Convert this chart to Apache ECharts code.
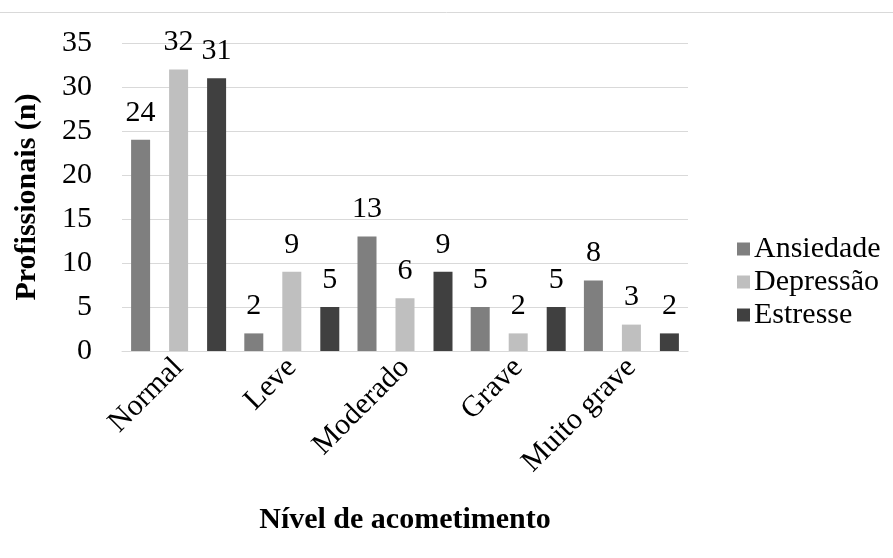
<!DOCTYPE html>
<html>
<head>
<meta charset="utf-8">
<script src="https://cdn.jsdelivr.net/npm/echarts@6/dist/echarts.min.js"></script>
<style>html,body{margin:0;padding:0;background:#fff}#c{width:893px;height:558px}</style>
</head>
<body>
<div id="c"></div>
<script>
const categories = ['Normal', 'Leve', 'Moderado', 'Grave', 'Muito grave'];
const seriesNames = ['Ansiedade', 'Depressão', 'Estresse'];
const ansiedade = [24, 2, 13, 5, 8];
const depressao = [32, 9, 6, 2, 3];
const estresse = [31, 5, 9, 5, 2];
const yTicks = [0, 5, 10, 15, 20, 25, 30, 35];

const FONT = 'Liberation Serif';
const FS = 30;
const colors = ['#7f7f7f', '#bfbfbf', '#404040'];
const values = [ansiedade, depressao, estresse];

const chart = echarts.init(document.getElementById('c'), null, {renderer: 'canvas'});
chart.setOption({
  animation: false,
  textStyle: {fontFamily: FONT},
  graphic: [{
    type: 'line', shape: {x1: 0, y1: 12.5, x2: 893, y2: 12.5},
    style: {stroke: '#d9d9d9', lineWidth: 1}
  }],
  grid: {left: 122, right: 205, top: 43, bottom: 207},
  legend: {
    orient: 'vertical', left: 732, top: 229,
    itemWidth: 13, itemHeight: 13, itemGap: 3,
    icon: 'rect',
    textStyle: {fontFamily: FONT, fontSize: FS, color: '#000', padding: [0,0,0,-1], lineHeight: 30},
    data: seriesNames
  },
  xAxis: {
    type: 'category', data: categories,
    axisLine: {lineStyle: {color: '#d9d9d9', width: 1}},
    axisTick: {show: false},
    axisLabel: {rotate: 45, fontFamily: FONT, fontSize: FS, color: '#000', margin: 12, interval: 0},
    name: 'Nível de acometimento', nameLocation: 'middle', nameGap: 154,
    nameTextStyle: {fontFamily: FONT, fontSize: FS, fontWeight: 'bold', color: '#000'}
  },
  yAxis: {
    type: 'value', min: yTicks[0], max: yTicks[yTicks.length - 1], interval: 5,
    axisLine: {show: false}, axisTick: {show: false},
    splitLine: {lineStyle: {color: '#d9d9d9', width: 1}},
    axisLabel: {fontFamily: FONT, fontSize: FS, color: '#000', margin: 30},
    name: 'Profissionais (n)', nameLocation: 'middle', nameGap: 80, nameRotate: 90,
    nameTextStyle: {fontFamily: FONT, fontSize: FS, fontWeight: 'bold', color: '#000'}
  },
  series: seriesNames.map((n, i) => ({
    name: n, type: 'bar', data: values[i],
    barWidth: 19, barGap: '100%',
    itemStyle: {color: colors[i]},
    label: {show: true, position: 'top', distance: 12, fontFamily: FONT, fontSize: FS, color: '#000'}
  }))
});
</script>
</body>
</html>
